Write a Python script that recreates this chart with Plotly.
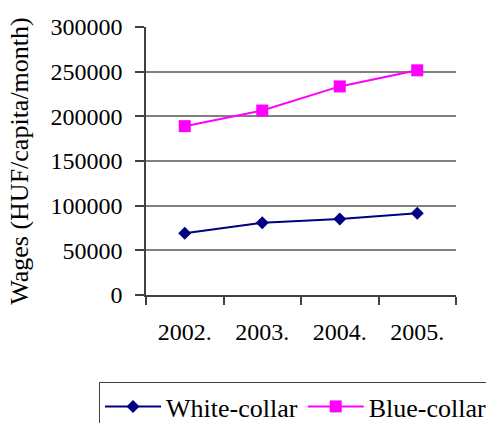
import plotly.graph_objects as go

years = ["2002.", "2003.", "2004.", "2005."]
white_collar = [69000, 81000, 85000, 91500]
blue_collar = [189000, 206500, 233500, 251500]
y_ticks = [0, 50000, 100000, 150000, 200000, 250000, 300000]

SERIF = "Liberation Serif, Times New Roman, serif"

fig = go.Figure()
fig.add_trace(go.Scatter(
    x=years, y=white_collar, name="White-collar", mode="lines+markers",
    line=dict(color="#000080", width=2),
    marker=dict(symbol="diamond", size=10, color="#000080"),
))
fig.add_trace(go.Scatter(
    x=years, y=blue_collar, name="Blue-collar", mode="lines+markers",
    line=dict(color="#FF00FF", width=2),
    marker=dict(symbol="square", size=12, color="#FF00FF"),
))

# plot area spans x 146..456 px, y 27..295 px
fig.update_layout(
    width=486, height=423,
    margin=dict(l=146, r=30, t=27, b=128, autoexpand=False),
    paper_bgcolor="white", plot_bgcolor="white",
    font=dict(family=SERIF, color="black"),
    showlegend=True,
    legend=dict(
        orientation="h", xref="paper", yref="paper",
        x=(99 - 146) / 310, y=(295 - 382) / 268,
        xanchor="left", yanchor="top",
        bordercolor="#404040", borderwidth=1, bgcolor="white",
        font=dict(family=SERIF, size=26, color="black"),
        itemwidth=56,
    ),
    xaxis=dict(
        type="category", range=[-0.5, 3.5], tickson="boundaries",
        ticks="outside", ticklen=8, tickcolor="#404040", tickwidth=1.5,
        showline=True, linecolor="#404040", linewidth=1.5,
        showgrid=False, zeroline=False,
        tickfont=dict(family=SERIF, size=24, color="black"),
        ticklabelstandoff=14,
        automargin=False,
    ),
    yaxis=dict(
        range=[0, 300000], tickvals=y_ticks,
        ticktext=[str(v) for v in y_ticks],
        ticks="outside", ticklen=9, tickcolor="#404040", tickwidth=1.5,
        showline=True, linecolor="#404040", linewidth=1.5,
        showgrid=True, gridcolor="#808080", gridwidth=1.5,
        zeroline=False,
        tickfont=dict(family=SERIF, size=24, color="black"),
        ticklabelstandoff=8,
        title=dict(text="Wages (HUF/capita/month)",
                   font=dict(family=SERIF, size=26, color="black"),
                   standoff=14),
        automargin=False,
    ),
)

fig.write_html("out.html")
